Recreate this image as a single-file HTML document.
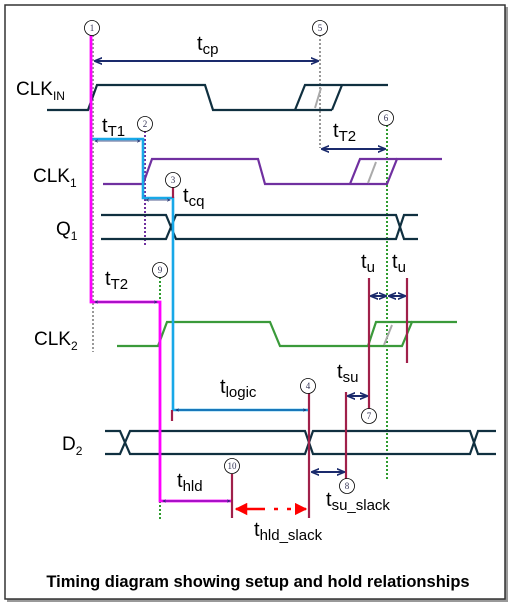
<!DOCTYPE html>
<html><head><style>
html,body{margin:0;padding:0;background:#fff;}
svg{display:block;}
text{font-family:"Liberation Sans",sans-serif;fill:#000;}
.c{fill:#fff;stroke:#000;stroke-width:0.8;}
.n{font-family:"Liberation Serif",serif;font-size:9px;fill:#335;}
</style></head><body>
<svg width="511" height="605" viewBox="0 0 511 605" xmlns="http://www.w3.org/2000/svg">
<defs>
<marker id="a" viewBox="0 0 10 10" refX="9" refY="5" markerWidth="4" markerHeight="4" orient="auto-start-reverse"><path d="M0,1 L10,5 L0,9" fill="none" stroke="#1a2a6c" stroke-width="2"/></marker>
<marker id="r" viewBox="0 0 10 10" refX="9" refY="5" markerWidth="5" markerHeight="5" orient="auto-start-reverse"><path d="M0,0 L10,5 L0,10 z" fill="#f00"/></marker>
</defs>
<rect x="7" y="7" width="501" height="595" fill="#999"/>
<rect x="5" y="5" width="500" height="594" fill="#fff" stroke="#333" stroke-width="1.5"/>

<line x1="93" y1="35" x2="93" y2="352" stroke="#999" stroke-width="2" stroke-dasharray="2,2"/>
<line x1="320" y1="35" x2="320" y2="148" stroke="#999" stroke-width="2" stroke-dasharray="2,2"/>
<line x1="145" y1="131" x2="145" y2="246" stroke="#7030a0" stroke-width="2" stroke-dasharray="2,2"/>
<line x1="387" y1="125" x2="387" y2="480" stroke="#2e9b2e" stroke-width="2" stroke-dasharray="2,2"/>
<line x1="160" y1="277" x2="160" y2="300" stroke="#2e9b2e" stroke-width="2" stroke-dasharray="2,2"/>
<line x1="160" y1="501" x2="160" y2="520" stroke="#2e9b2e" stroke-width="2" stroke-dasharray="2,2"/>

<polyline points="47,110 88,110 97,85 205,85 213,110 332,110" fill="none" stroke="#103040" stroke-width="2.2"/>
<polyline points="295,110 305,85 388,85" fill="none" stroke="#103040" stroke-width="2.2"/>
<line x1="332" y1="110" x2="342" y2="85" stroke="#103040" stroke-width="2.2"/>
<line x1="315" y1="108" x2="321" y2="88" stroke="#aaa" stroke-width="2"/>
<polyline points="103,184 143,184 152,159 258,159 265,184 387,184 397,159 442,159" fill="none" stroke="#7030a0" stroke-width="2.2"/>
<polyline points="350,184 360,159 397,159" fill="none" stroke="#7030a0" stroke-width="2.2"/>
<line x1="368" y1="183" x2="376" y2="162" stroke="#aaa" stroke-width="2"/>
<polyline points="101,215 166,215 176,239 396,239 404,215 418,215" fill="none" stroke="#103040" stroke-width="2.2"/>
<polyline points="101,239 166,239 176,215 396,215 404,239 418,239" fill="none" stroke="#103040" stroke-width="2.2"/>
<polyline points="117,346 158,346 167,322 270,322 280,346 402,346 412,322 457,322" fill="none" stroke="#3a9a3a" stroke-width="2.2"/>
<polyline points="368,346 376,322 412,322" fill="none" stroke="#3a9a3a" stroke-width="2.2"/>
<line x1="384" y1="345" x2="392" y2="325" stroke="#aaa" stroke-width="2"/>
<polyline points="105,431 120,431 130,454 305,454 313,431 470,431 478,454 496,454" fill="none" stroke="#103040" stroke-width="2.2"/>
<polyline points="105,454 120,454 130,431 305,431 313,454 470,454 478,431 496,431" fill="none" stroke="#103040" stroke-width="2.2"/>

<polyline points="92,139 143,139 143,198 173,198 173,410 308,410" fill="none" stroke="#18a8e8" stroke-width="2.6"/>
<line x1="95" y1="141" x2="140" y2="141" stroke="#1a2a6c" stroke-width="0.8" marker-start="url(#a)" marker-end="url(#a)"/>
<line x1="146" y1="200" x2="170" y2="200" stroke="#1a2a6c" stroke-width="0.8" marker-start="url(#a)" marker-end="url(#a)"/>
<line x1="176" y1="410" x2="306" y2="410" stroke="#1a2a6c" stroke-width="0.8" marker-start="url(#a)" marker-end="url(#a)"/>
<polyline points="91,35 91,302 160,302 160,501 233,501" fill="none" stroke="#ff00ff" stroke-width="2.8"/>
<line x1="95" y1="302" x2="157" y2="302" stroke="#1a2a6c" stroke-width="0.8" marker-start="url(#a)" marker-end="url(#a)"/>
<line x1="163" y1="501" x2="230" y2="501" stroke="#1a2a6c" stroke-width="0.8" marker-start="url(#a)" marker-end="url(#a)"/>

<g stroke="#a0204a" stroke-width="2.2">
<line x1="173" y1="187" x2="173" y2="198"/>
<line x1="172" y1="410" x2="172" y2="421"/>
<line x1="369" y1="278" x2="369" y2="409"/>
<line x1="407" y1="278" x2="407" y2="363"/>
<line x1="346" y1="392" x2="346" y2="479"/>
<line x1="309" y1="393" x2="309" y2="518"/>
<line x1="232" y1="474" x2="232" y2="518"/>
</g>

<g stroke="#1a2a6c" stroke-width="2" fill="none">
<line x1="95" y1="61" x2="318" y2="61" marker-start="url(#a)" marker-end="url(#a)"/>
<line x1="322" y1="149" x2="385" y2="149" marker-start="url(#a)" marker-end="url(#a)"/>
<line x1="371" y1="296" x2="386" y2="296" marker-start="url(#a)" marker-end="url(#a)"/>
<line x1="389" y1="296" x2="405" y2="296" marker-start="url(#a)" marker-end="url(#a)"/>
<line x1="348" y1="396" x2="367" y2="396" marker-start="url(#a)" marker-end="url(#a)"/>
<line x1="312" y1="472" x2="344" y2="472" marker-start="url(#a)" marker-end="url(#a)"/>
</g>
<line x1="236" y1="509" x2="265" y2="509" stroke="#f00" stroke-width="2.5" marker-start="url(#r)"/>
<line x1="274" y1="509" x2="278" y2="509" stroke="#f00" stroke-width="2.5"/>
<line x1="287" y1="509" x2="291" y2="509" stroke="#f00" stroke-width="2.5"/>
<line x1="298" y1="509" x2="306" y2="509" stroke="#f00" stroke-width="2.5" marker-end="url(#r)"/>

<g>
<circle class="c" cx="92" cy="28" r="7.5"/><text class="n" x="92" y="31" text-anchor="middle">1</text>
<circle class="c" cx="145" cy="124" r="7.5"/><text class="n" x="145" y="127" text-anchor="middle">2</text>
<circle class="c" cx="173" cy="180" r="7.5"/><text class="n" x="173" y="183" text-anchor="middle">3</text>
<circle class="c" cx="308" cy="386" r="7.5"/><text class="n" x="308" y="389" text-anchor="middle">4</text>
<circle class="c" cx="320" cy="28" r="7.5"/><text class="n" x="320" y="31" text-anchor="middle">5</text>
<circle class="c" cx="386" cy="118" r="7.5"/><text class="n" x="386" y="121" text-anchor="middle">6</text>
<circle class="c" cx="369" cy="416" r="7.5"/><text class="n" x="369" y="419" text-anchor="middle">7</text>
<circle class="c" cx="347" cy="486" r="7.5"/><text class="n" x="347" y="489" text-anchor="middle">8</text>
<circle class="c" cx="160" cy="270" r="7.5"/><text class="n" x="160" y="273" text-anchor="middle">9</text>
<circle class="c" cx="232" cy="466" r="7.5"/><text class="n" x="232" y="469" text-anchor="middle">10</text>
</g>

<g font-size="20">
<text x="197" y="50">t<tspan font-size="15" dy="4">cp</tspan></text>
<text x="16" y="95" font-size="19">CLK<tspan font-size="12" dy="5">IN</tspan></text>
<text x="102" y="132">t<tspan font-size="15" dy="4">T1</tspan></text>
<text x="33" y="182" font-size="19">CLK<tspan font-size="12" dy="5">1</tspan></text>
<text x="183" y="202">t<tspan font-size="15" dy="4">cq</tspan></text>
<text x="56" y="235" font-size="19">Q<tspan font-size="12" dy="5">1</tspan></text>
<text x="105" y="285">t<tspan font-size="15" dy="4">T2</tspan></text>
<text x="333" y="137">t<tspan font-size="15" dy="4">T2</tspan></text>
<text x="34" y="345" font-size="19">CLK<tspan font-size="12" dy="5">2</tspan></text>
<text x="361" y="268">t<tspan font-size="15" dy="4">u</tspan></text>
<text x="392" y="268">t<tspan font-size="15" dy="4">u</tspan></text>
<text x="337" y="378">t<tspan font-size="15" dy="4">su</tspan></text>
<text x="220" y="393">t<tspan font-size="15" dy="4">logic</tspan></text>
<text x="62" y="450" font-size="19">D<tspan font-size="12" dy="5">2</tspan></text>
<text x="177" y="487">t<tspan font-size="15" dy="4">hld</tspan></text>
<text x="326" y="506">t<tspan font-size="15" dy="4">su_slack</tspan></text>
<text x="254" y="536">t<tspan font-size="15" dy="4">hld_slack</tspan></text>
</g>
<text x="258" y="587" font-size="16.5" font-weight="bold" text-anchor="middle">Timing diagram showing setup and hold relationships</text>
</svg>
</body></html>
